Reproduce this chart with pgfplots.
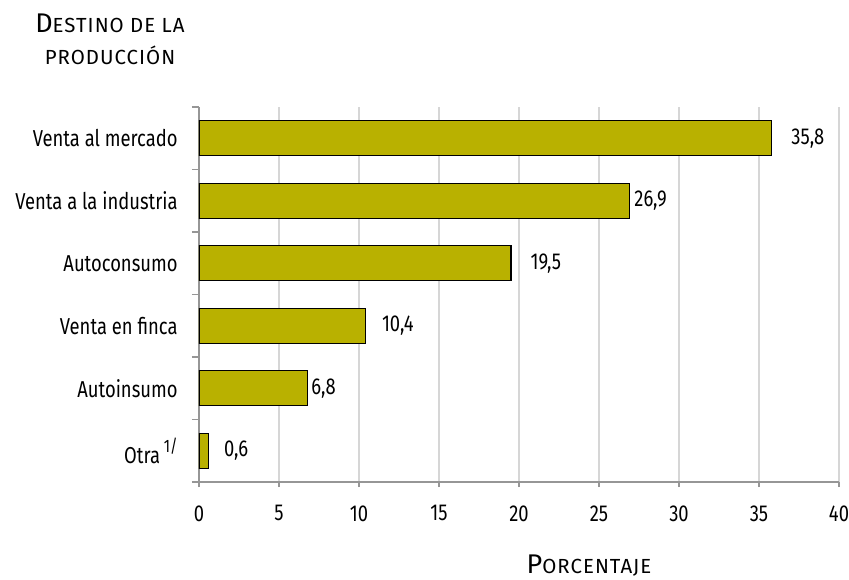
\documentclass[border=0pt]{standalone}
\usepackage{pgfplots}
\pgfplotsset{compat=1.18}
\usepackage{pgfplotstable}
\usepackage{fontspec}
\setmainfont[FakeStretch=0.8]{Fira Sans}
\newfontfamily\titlefont[LetterSpace=5]{Fira Sans}
\definecolor{barfill}{RGB}{185,177,0}
\definecolor{axgray}{RGB}{150,150,150}
\definecolor{gridgray}{RGB}{214,214,214}
\newcommand\fsc[2]{{\titlefont{\fontsize{13.5}{15}\selectfont #1}{\fontsize{10.2}{12}\selectfont #2}}}

% y = category position (0 = bottom), off = gap between bar end and label (pt)
\pgfplotstableread{
y x off
5 35.8 9.5
4 26.9 2.2
3 19.5 9.5
2 10.4 8
1 6.8 1.5
0 0.6 7.5
}\destino

\begin{document}
\fontsize{11.5pt}{14pt}\selectfont
\begin{tikzpicture}
\useasboundingbox (-99.5pt,-48.5pt) rectangle (325pt,241pt);
\begin{axis}[
    at={(0,0)}, anchor=south west,
    scale only axis,
    width=320pt, height=187.5pt,
    xbar,
    bar width=17.5pt,
    xmin=0, xmax=40,
    ymin=-0.5, ymax=5.5,
    axis lines*=left,
    axis line style={axgray, line width=0.8pt, -},
    xtick={0,5,...,40},
    xmajorgrids,
    grid style={gridgray, line width=0.6pt},
    tick align=outside,
    major tick length=2.5pt,
    minor tick length=3.5pt,
    x tick style={axgray, line width=0.8pt},
    major y tick style={draw=none},
    minor y tick style={axgray, line width=0.8pt},
    ytick={0,...,5},
    minor ytick={-0.5,0.5,...,5.5},
    yticklabels={Otra\,\raisebox{0.9ex}{\fontsize{9}{10}\selectfont 1/}, Autoinsumo, Venta en finca, Autoconsumo, Venta a la industria, Venta al mercado},
    yticklabel style={anchor=east, inner sep=0pt, xshift=-8pt},
    xticklabel style={anchor=north, inner sep=0pt, yshift=-9pt},
    /pgf/number format/assume math mode=true,
    point meta=x,
    nodes near coords={\pgfmathprintnumber[fixed,fixed zerofill,precision=1,use comma,assume math mode=true]{\pgfplotspointmeta}},
    visualization depends on={\thisrow{off} \as \off},
    every node near coord/.append style={anchor=west, inner sep=0pt, xshift=\off pt, black},
]
\addplot[fill=barfill, draw=black, line width=0.6pt] table[x=x, y=y] {\destino};
\end{axis}
\node[anchor=base] at (-44.5pt,224.5pt) {\fsc{D}{ESTINO DE LA}};
\node[anchor=base] at (-44.5pt,208.5pt) {\fsc{}{PRODUCCIÓN}};
\node[anchor=base] at (195pt,-45.5pt) {\fsc{P}{ORCENTAJE}};
\end{tikzpicture}
\end{document}
